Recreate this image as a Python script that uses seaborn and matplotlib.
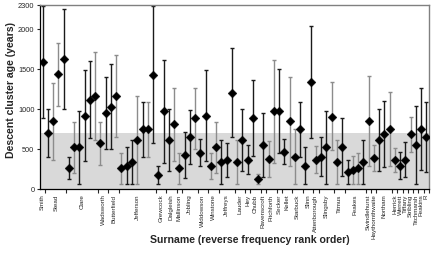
import numpy as np
import matplotlib
matplotlib.use('Agg')
import matplotlib.pyplot as plt
import seaborn as sns
import pandas as pd

# descent cluster ages (years): point estimate, lower and upper bound
age = [1583, 696, 846, 1433, 1629, 258, 521, 521, 917, 1112, 1158, 575, 946, 1029, 1158,
       258, 292, 333, 608, 750, 750, 1429, 179, 975, 608, 808, 258, 429, 650, 883,
       454, 917, 292, 521, 333, 362, 1204, 333, 608, 367, 883, 125, 550, 379, 975,
       975, 467, 846, 404, 750, 292, 1333, 367, 404, 521, 904, 333, 521, 212, 233,
       258, 333, 850, 387, 612, 683, 750, 367, 292, 367, 683, 550, 750, 654]
lower = [887, 396, 362, 1037, 1004, 121, 196, 62, 350, 642, 612, 304, 500, 500, 646,
         62, 62, 62, 62, 404, 404, 579, 67, 329, 221, 354, 62, 142, 312, 500,
         292, 350, 129, 196, 62, 154, 646, 62, 221, 183, 412, 62, 146, 154, 329,
         446, 312, 292, 62, 404, 62, 637, 196, 167, 62, 483, 62, 158, 62, 62,
         62, 62, 283, 221, 221, 271, 283, 212, 121, 154, 467, 62, 237, 208]
upper = [2290, 996, 1325, 1825, 2246, 396, 837, 975, 1487, 1596, 1708, 842, 1396, 1558, 1679,
         454, 525, 608, 1158, 1092, 1092, 2290, 292, 1617, 996, 1267, 454, 717, 992, 1267,
         625, 1483, 454, 842, 608, 579, 1762, 608, 996, 550, 1358, 192, 954, 600, 1617,
         1500, 629, 1400, 750, 1092, 521, 2037, 537, 646, 975, 1333, 608, 883, 362, 408,
         454, 608, 1417, 546, 996, 1104, 1217, 517, 458, 583, 900, 1042, 1258, 1083]
# D = black bar, G = grey bar
shade = list("DDGGDDGDDDGGDDGGDDGDGDDDDGGDDGDDGGDDDGDDDGDGGDDGGDDDGDDGGDDGGDGGDDGGDDGDDD")

surnames = ['Smith', 'Stead', 'Clare', 'Wadsworth', 'Butterfield', 'Jefferson', 'Grewcock',
            'Dalgleish', 'Mallinson', 'Jobling', 'Widdowson', 'Winstone', 'Jeffreys', 'Lauder',
            'Hey', 'Chubb', 'Ravenscroft', 'Pitchforth', 'Secker', 'Kellet', 'Starbuck', 'Slinn',
            'Attenborough', 'Slingsby', 'Titmus', 'Feakes', 'Swindlehurst', 'Haythornthwaite',
            'Northam', 'Herrick', 'Werrett', 'Tiffany', 'Stribling', 'Titchmarsh', 'Feakins', 'R']
group_start = [0, 1, 5, 11, 13, 15, 22, 24, 26, 27, 30, 32, 34, 37, 39, 40, 42, 43, 45, 46,
               48, 50, 52, 53, 56, 58, 62, 63, 64, 67, 68, 69, 70, 71, 72, 73]

df = pd.DataFrame({'cluster': np.arange(len(age)), 'age': age,
                   'lower': lower, 'upper': upper, 'shade': shade})

sns.set_style('ticks')
plt.rcParams['font.family'] = ['Liberation Sans', 'DejaVu Sans']

fig = plt.figure(figsize=(4.37, 2.56), dpi=100)
ax = fig.add_axes([40/437, 1-189/256, 389/437, 184/256])

ax.axhspan(0, 700, color='#d9d9d9', zorder=0, lw=0)

for key, col in [('D', '#1a1a1a'), ('G', '#8c8c8c')]:
    sub = df[df['shade'] == key]
    ax.errorbar(sub['cluster'], sub['age'],
                yerr=[sub['age'] - sub['lower'], sub['upper'] - sub['age']],
                fmt='none', ecolor=col, elinewidth=1.0, capsize=1.6, capthick=1.0, zorder=2)

sns.scatterplot(data=df, x='cluster', y='age', marker='D', color='black', s=20,
                edgecolor='black', linewidth=0.3, ax=ax, zorder=3, legend=False)

ax.set_xlim(-0.5, len(age) - 0.5)
ax.set_ylim(0, 2300)
ax.set_yticks([0, 500, 1000, 1500, 2000, 2300])
ax.tick_params(axis='y', labelsize=5.3, length=2.5, width=0.8, pad=1.5)

# tick marks at surname group boundaries, labels centred in each group
ends = group_start[1:] + [len(age)]
ax.set_xticks([b - 0.5 for b in group_start[1:]] + [len(age) - 0.5])
ax.set_xticklabels([])
ax.tick_params(axis='x', which='major', length=3, width=0.8)
ax.set_xticks([(s + e) / 2 - 0.5 for s, e in zip(group_start, ends)], minor=True)
ax.set_xticklabels(surnames, minor=True, rotation=90, fontsize=4.5, va='top')
ax.tick_params(axis='x', which='minor', length=0, pad=4)

for side in ['top', 'right']:
    ax.spines[side].set_visible(True)
    ax.spines[side].set_color('#808080')
    ax.spines[side].set_linewidth(1.0)
for side in ['left', 'bottom']:
    ax.spines[side].set_color('black')
    ax.spines[side].set_linewidth(0.9)

ax.set_xlabel('Surname (reverse frequency rank order)', fontsize=7.6, fontweight='bold')
ax.set_ylabel('Descent cluster age (years)', fontsize=7.6, fontweight='bold')
ax.xaxis.set_label_coords(0.54, -0.25)
ax.yaxis.set_label_coords(-0.062, 0.54)

fig.savefig('out.png', dpi=100)
